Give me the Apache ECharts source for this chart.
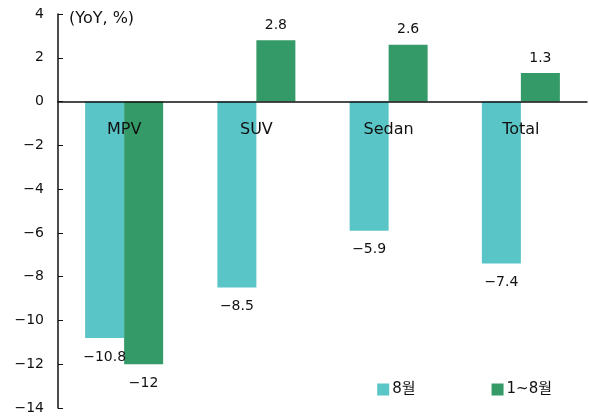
<!DOCTYPE html>
<html>
<head>
<meta charset="utf-8">
<script src="https://cdn.jsdelivr.net/npm/echarts@6/dist/echarts.min.js"></script>
<style>
    html, body { margin: 0; padding: 0; background: #fff; }
    #chart { width: 589px; height: 416px; }
</style>
</head>
<body>
<div id="chart"></div>
<script>
const categories = ['MPV', 'SUV', 'Sedan', 'Total']
const augustValues = [-10.8, -8.5, -5.9, -7.4]
const ytdValues = [-12, 2.8, 2.6, 1.3]
const seriesNames = ['8월', '1~8월']
const seriesColors = ['#5ac5c7', '#339a68']

const font = '"DejaVu Sans", "Noto Sans CJK KR", sans-serif'
const minus = v => String(v).replace('-', '\u2212')

// negative bars get their value under the bar end, positive ones above
const toData = values => values.map(v => ({
    value: v,
    label: { position: v < 0 ? 'bottom' : 'top', distance: v < 0 ? 12 : 8 }
}))

const chart = echarts.init(document.getElementById('chart'))

chart.setOption({
    animation: false,
    textStyle: { fontFamily: font },
    title: {
        text: '(YoY, %)',
        left: 64,
        top: 6,
        textStyle: { fontFamily: font, fontSize: 16, fontWeight: 'normal', color: '#111' }
    },
    legend: {
        data: seriesNames,
        right: 32,
        bottom: 14,
        itemWidth: 12,
        itemHeight: 12,
        itemGap: 76,
        icon: 'rect',
        textStyle: { fontFamily: font, fontSize: 15, color: '#111', padding: [0, 0, 0, -2] }
    },
    grid: { left: 58, right: 2, top: 14, bottom: 8, outerBoundsMode: 'none', containLabel: false },
    xAxis: [
        {
            type: 'category',
            data: categories,
            z: 10,
            axisLine: { onZero: true, lineStyle: { color: '#111', width: 1.5 } },
            axisTick: { inside: true, length: 5, lineStyle: { color: '#111' } },
            axisLabel: { show: false }
        },
        {
            // category names sit just under the zero line, over the bars
            type: 'category',
            data: categories,
            position: 'bottom',
            offset: -306,
            z: 10,
            axisLine: { show: false },
            axisTick: { show: false },
            axisLabel: { margin: 20, fontSize: 16, color: '#111', fontFamily: font }
        }
    ],
    yAxis: {
        type: 'value',
        min: -14,
        max: 4,
        interval: 2,
        splitLine: { show: false },
        axisLine: { show: true, lineStyle: { color: '#111', width: 1.5 } },
        axisTick: { show: true, inside: true, length: 5, lineStyle: { color: '#111' } },
        axisLabel: { margin: 14, fontSize: 14, color: '#111', fontFamily: font, formatter: minus }
    },
    series: [
        {
            name: seriesNames[0],
            type: 'bar',
            data: toData(augustValues),
            barWidth: 39,
            barGap: '0%',
            itemStyle: { color: seriesColors[0] },
            label: { show: true, fontSize: 14, color: '#111', fontFamily: font, formatter: p => minus(p.value) }
        },
        {
            name: seriesNames[1],
            type: 'bar',
            data: toData(ytdValues),
            barWidth: 39,
            barGap: '0%',
            itemStyle: { color: seriesColors[1] },
            label: { show: true, fontSize: 14, color: '#111', fontFamily: font, formatter: p => minus(p.value) }
        }
    ]
})
</script>
</body>
</html>
